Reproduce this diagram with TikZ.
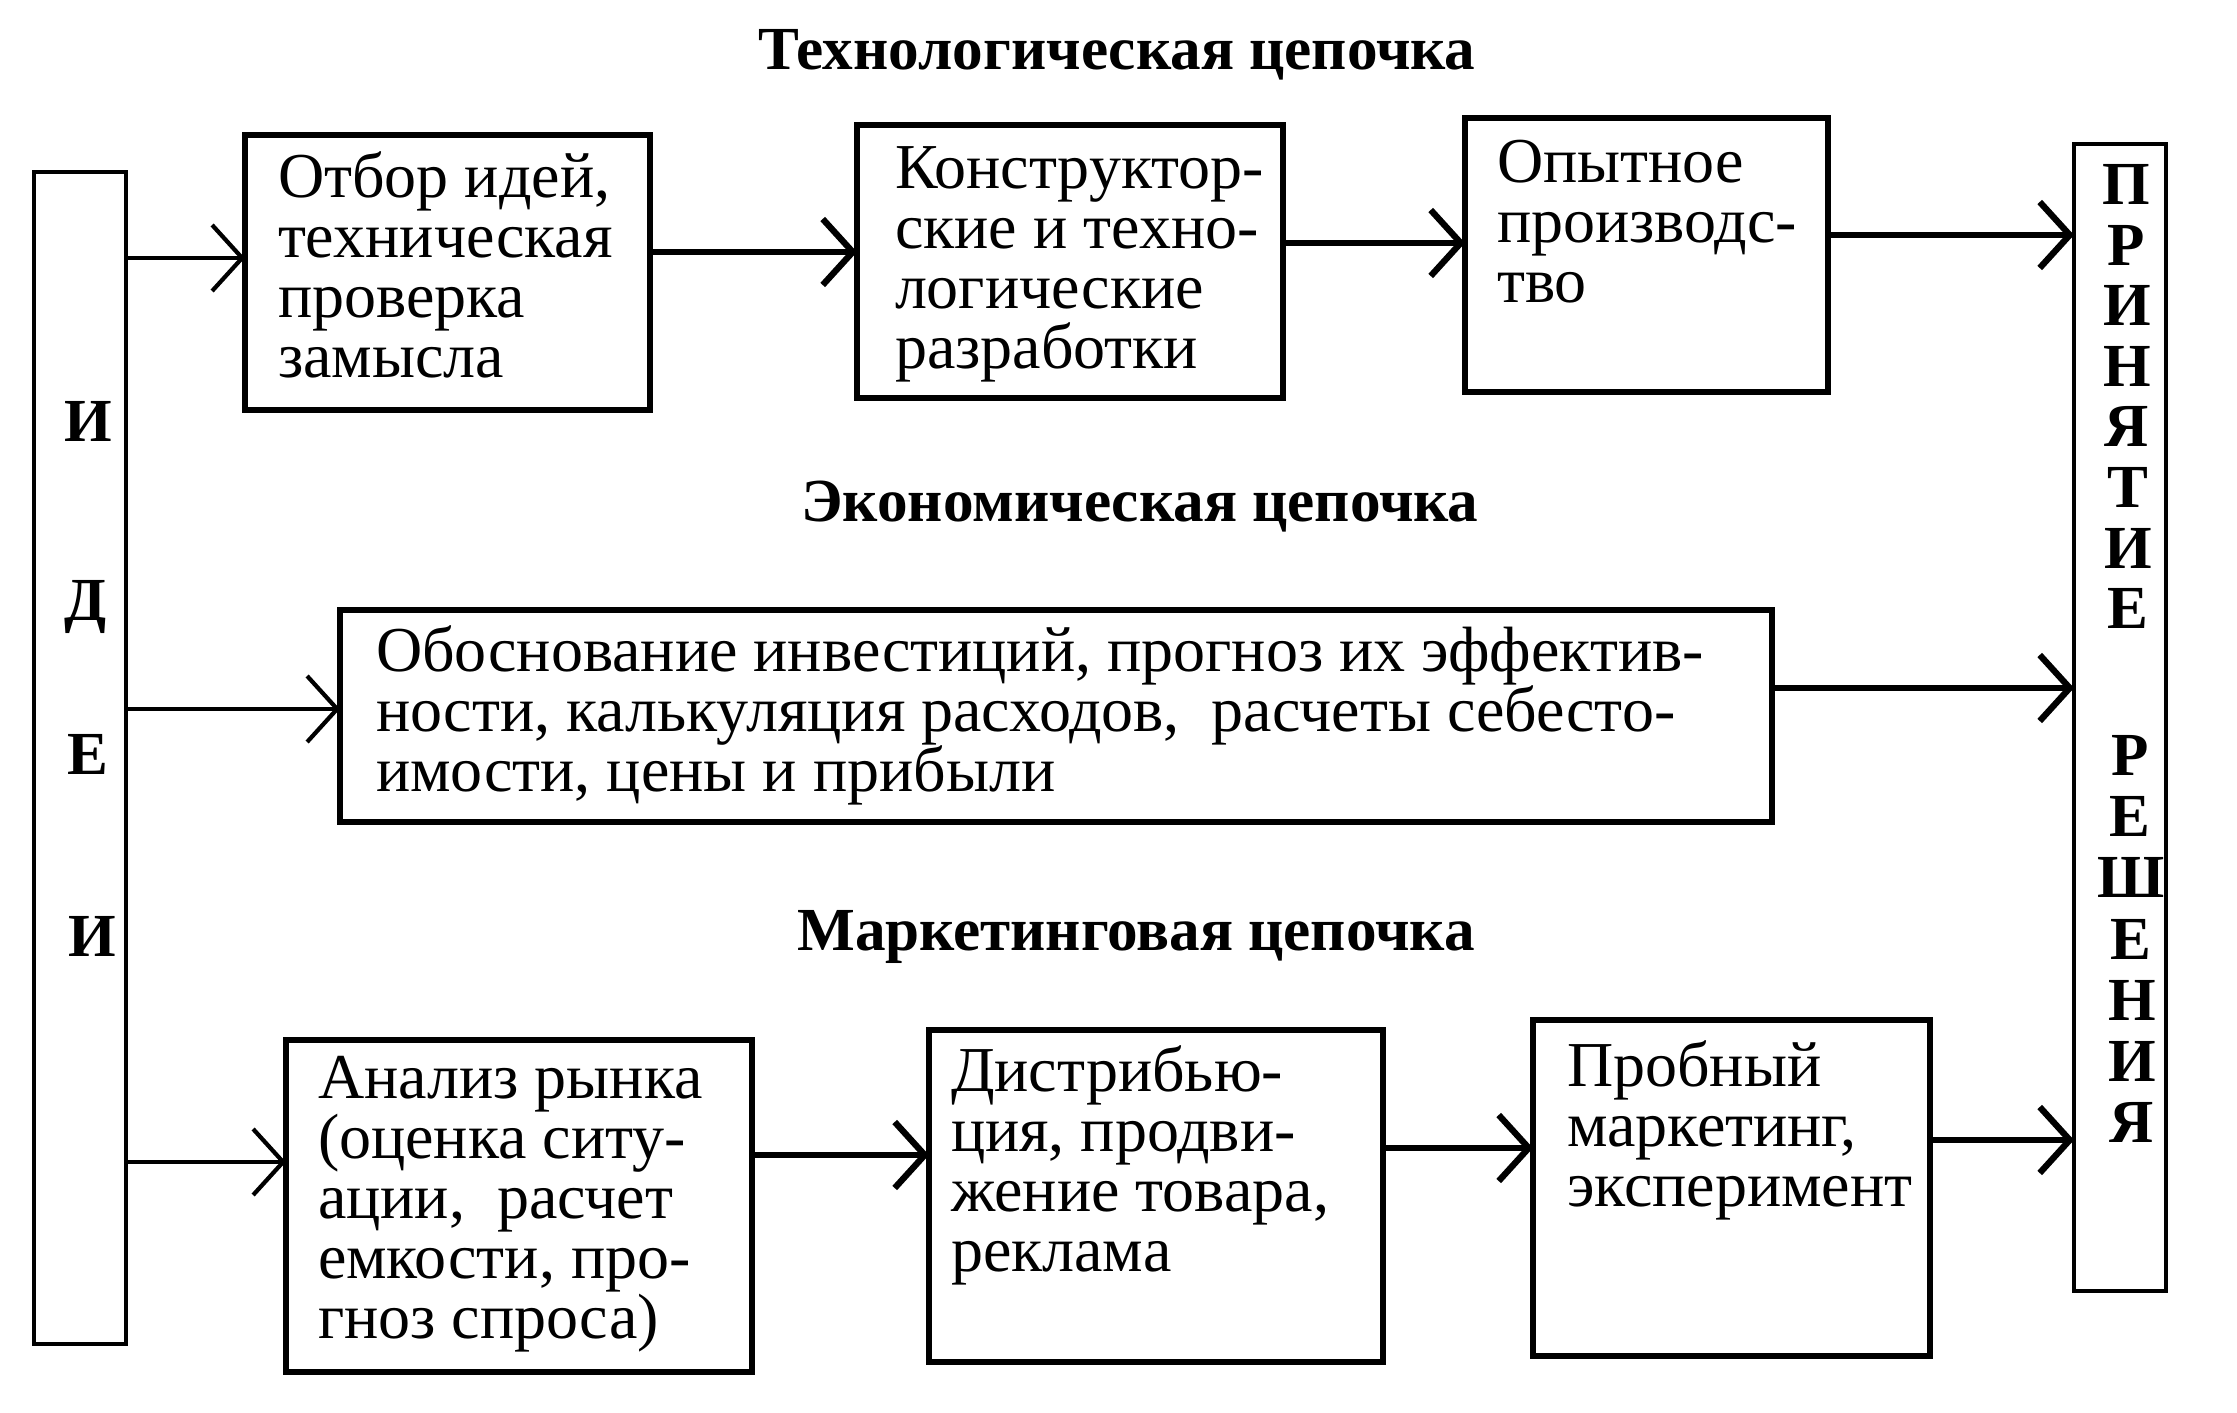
\documentclass[tikz,border=0pt]{standalone}
\usepackage{fontspec}
\setmainfont{Liberation Serif}
\usetikzlibrary{arrows.meta,calc}
\newcommand\bxt[5]{\parbox[c][#2][t]{#1}{\raggedright\leftskip=#3\relax\lineskiplimit=-20pt\rule{0pt}{#4}#5\par}}
\begin{document}
\begin{tikzpicture}[x=0.01cm,y=-0.01cm,
  box/.style={draw, line width=1.7pt, inner sep=0pt, outer sep=0pt, anchor=north west,
    font=\fontsize{18.2pt}{17.07pt}\selectfont},
  tall/.style={draw, line width=1.2pt, inner sep=0pt, outer sep=0pt, anchor=north west},
  ttl/.style={font=\bfseries\fontsize{17.4pt}{20pt}\selectfont, anchor=base, inner sep=0pt},
  ltr/.style={font=\bfseries\fontsize{17.4pt}{20pt}\selectfont, anchor=base, inner sep=0pt},
  arr/.style={line width=1.8pt, -{Straight Barb[length=0.3cm,width=0.66cm]}},
  arrthin/.style={arr, line width=1.2pt}]
\useasboundingbox[fill=white] (0,0) rectangle (2237,1413);

% titles
\node[ttl] (t1) at (1117,70) {Технологическая цепочка};
\node[ttl] (t2) at (1140,522) {Экономическая цепочка};
\node[ttl] (t3) at (1136,950) {Маркетинговая цепочка};

% tall boxes
\node[tall, minimum width=0.92cm, minimum height=11.71cm] (idei) at (34,172) {};
\node[tall, minimum width=0.92cm, minimum height=11.46cm] (dec) at (2074,144) {};

\node[ltr] (i1) at (88,442) {И};
\node[ltr] (i2) at (86,620) {Д};
\node[ltr] (i3) at (88,774) {Е};
\node[ltr] (i4) at (92,956) {И};

\node[ltr] (r1) at (2126,205) {П};
\node[ltr] (r2) at (2126,266) {Р};
\node[ltr] (r3) at (2127,326) {И};
\node[ltr] (r4) at (2127,387) {Н};
\node[ltr] (r5) at (2127,447) {Я};
\node[ltr] (r6) at (2128,508) {Т};
\node[ltr] (r7) at (2128,569) {И};
\node[ltr] (r8) at (2128,629) {Е};
\node[ltr] (s1) at (2130,775) {Р};
\node[ltr] (s2) at (2130,836) {Е};
\node[ltr] (s3) at (2131,897) {Ш};
\node[ltr] (s4) at (2131,959) {Е};
\node[ltr] (s5) at (2132,1020) {Н};
\node[ltr] (s6) at (2132,1081) {И};
\node[ltr] (s7) at (2132,1142) {Я};

% technological chain
\node[box] (b1) at (245,135) {\bxt{4.05cm}{2.75cm}{0.33cm}{0.62cm}{Отбор идей,\\техническая\\проверка\\замысла}};
\node[box] (b2) at (857,125) {\bxt{4.26cm}{2.73cm}{0.38cm}{0.63cm}{Конструктор-\\ские и техно-\\логические\\разработки}};
\node[box] (b3) at (1465,118) {\bxt{3.63cm}{2.74cm}{0.32cm}{0.64cm}{Опытное\\производс-\\тво}};

% economic chain
\node[box] (eco) at (340,610) {\bxt{14.31cm}{2.12cm}{0.36cm}{0.61cm}{Обоснование инвестиций, прогноз их эффектив-\\ности, калькуляция расходов,\ \ расчеты себесто-\\имости, цены и прибыли}};

% marketing chain
\node[box] (m1) at (286,1040) {\bxt{4.66cm}{3.32cm}{0.32cm}{0.58cm}{Анализ рынка\\(оценка ситу-\\ации,\ \ расчет\\емкости, про-\\гноз спроса)}};
\node[box] (m2) at (929,1030) {\bxt{4.54cm}{3.32cm}{0.22cm}{0.61cm}{Дистрибью-\\ция, продви-\\жение товара,\\реклама}};
\node[box] (m3) at (1533,1020) {\bxt{3.97cm}{3.36cm}{0.34cm}{0.66cm}{Пробный\\маркетинг,\\эксперимент}};

% connectors
\draw[arrthin] (idei.east |- 0,258) -- (b1.west |- 0,258);
\draw[arr] (b1.east |- 0,252) -- (b2.west |- 0,252);
\draw[arr] (b2.east |- 0,243) -- (b3.west |- 0,243);
\draw[arr] (b3.east |- 0,235) -- (dec.west |- 0,235);
\draw[arrthin] (idei.east |- 0,709) -- (eco.west |- 0,709);
\draw[arr] (eco.east |- 0,688) -- (dec.west |- 0,688);
\draw[arrthin] (idei.east |- 0,1162) -- (m1.west |- 0,1162);
\draw[arr] (m1.east |- 0,1155) -- (m2.west |- 0,1155);
\draw[arr] (m2.east |- 0,1148) -- (m3.west |- 0,1148);
\draw[arr] (m3.east |- 0,1140) -- (dec.west |- 0,1140);
\end{tikzpicture}
\end{document}
